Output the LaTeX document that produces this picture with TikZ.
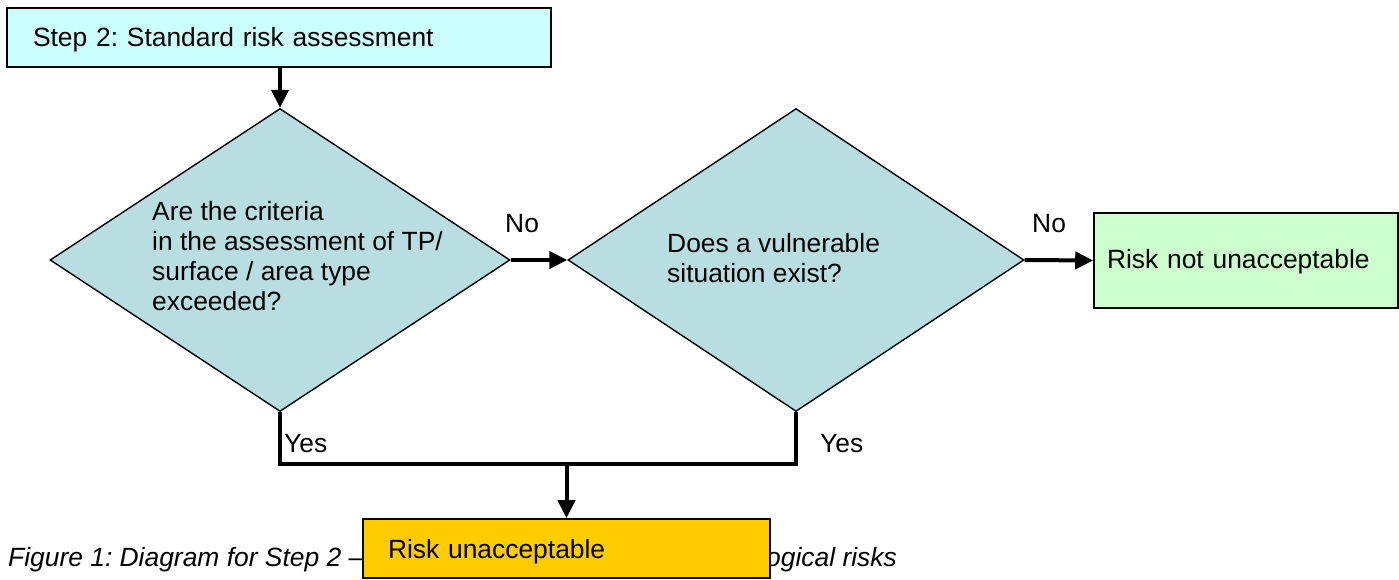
\documentclass[tikz,border=0pt]{standalone}
\usepackage{fontspec}
\setmainfont{Liberation Sans}
\usetikzlibrary{shapes.geometric,arrows.meta}
\definecolor{topfill}{HTML}{CCFFFF}
\definecolor{qfill}{HTML}{B8DEE2}
\definecolor{okfill}{HTML}{CCFFCC}
\definecolor{badfill}{HTML}{FFCC00}
\frenchspacing
\begin{document}
\begin{tikzpicture}[x=1pt,y=-1pt,
  every node/.style={font=\fontsize{26.4}{29.7}\selectfont},
  boxnode/.style={draw=black,line width=1.6pt,rectangle,align=left,inner ysep=0pt,text depth=0pt},
  qnode/.style={draw=black,line width=1.4pt,diamond,fill=qfill,inner sep=0pt,minimum width=460pt,minimum height=303pt},
  qtext/.style={align=left,anchor=base west,inner sep=0pt},
  lbl/.style={anchor=base west,inner sep=0pt},
  conn/.style={line width=4pt,line join=miter},
  arr/.style={conn,-{Triangle[length=18pt,width=17pt]}}]
\useasboundingbox (0,0) rectangle (1399,580);
% caption (partly hidden by the bottom box)
\node[lbl,font=\fontsize{26.4}{29.7}\selectfont\itshape] (cap1) at (8,566) {Figure 1: Diagram for Step 2 --};
\node[anchor=base east,inner sep=0pt,font=\fontsize{26.4}{29.7}\selectfont\itshape] (cap2) at (897,566) {ogical risks};
% boxes
\node[boxnode,fill=topfill,minimum width=544pt,minimum height=59pt,inner xsep=26pt,text width=492pt,text height=19pt] (top) at (279,37.5) {Step 2: Standard risk assessment};
\node[qnode] (q1) at (280,260) {};
\node[qnode,minimum width=456pt] (q2) at (796,260) {};
\node[qtext] (q1t) at (152,310) {Are the criteria\\in the assessment of TP/\\surface / area type\\exceeded?};
\node[qtext] (q2t) at (667,282) {Does a vulnerable\\situation exist?};
\node[boxnode,fill=okfill,minimum width=304pt,minimum height=95pt,inner xsep=13pt,text width=278pt,text height=15pt] (ok) at (1246,260.5) {Risk not unacceptable};
\node[boxnode,fill=badfill,minimum width=407pt,minimum height=59pt,inner xsep=25pt,text width=357pt,text height=19pt] (bad) at (566.5,548.5) {Risk unacceptable};
% connectors
\coordinate (j) at (566.5,464);
\draw[arr] (top.south -| q1.north) -- (q1.north);
\draw[arr] (q1.east) -- (q2.west);
\draw[arr] (q2.east) -- (ok.west);
\draw[conn] (q1.south) |- (j) -| (q2.south);
\draw[arr] (j) -- (bad.north);
% labels
\node[lbl] (no1) at (505,232) {No};
\node[lbl] (no2) at (1032,232) {No};
\node[lbl] (yes1) at (284,452) {Yes};
\node[lbl] (yes2) at (820,452) {Yes};
\end{tikzpicture}
\end{document}
